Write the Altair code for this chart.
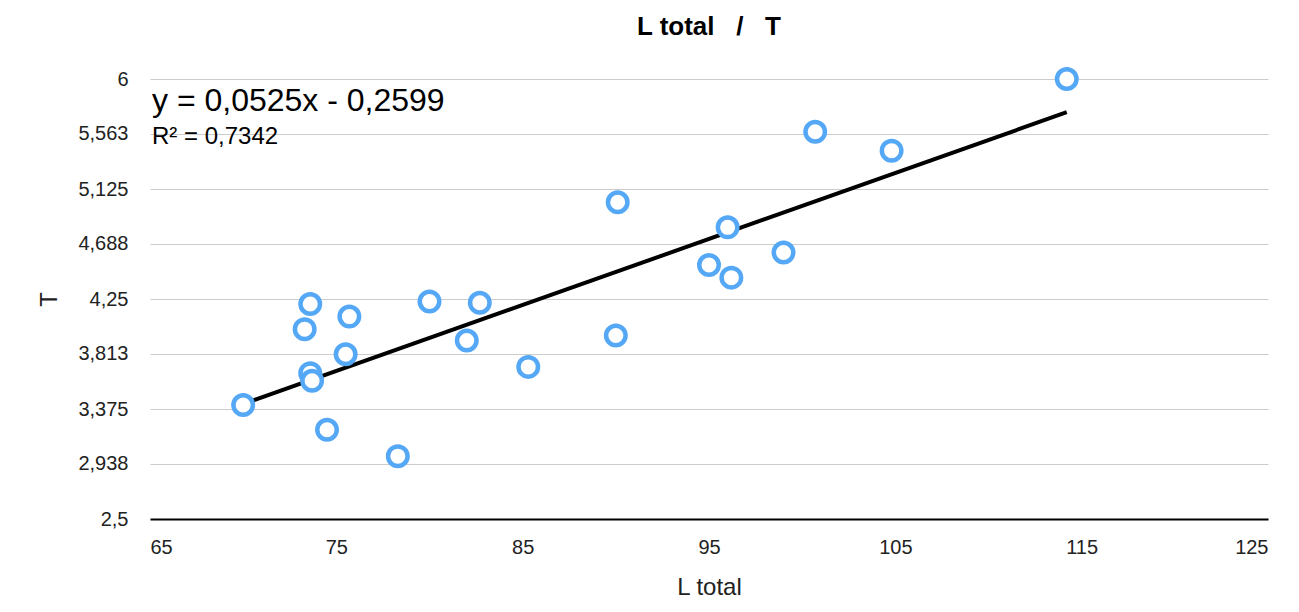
import altair as alt
import pandas as pd

lx = [70.0,73.6,73.3,75.7,73.6,73.7,75.5,74.5,78.3,80.0,82.7,82.0,85.3,90.1,90.0,95.0,96.0,96.2,99.0,100.7,104.8,114.2]
ty = [3.407,4.21,4.01,4.11,3.66,3.60,3.81,3.21,3.00,4.23,4.22,3.92,3.71,5.02,3.96,4.52,4.82,4.42,4.62,5.58,5.43,6.0]
yticks = [2.5,2.938,3.375,3.813,4.25,4.688,5.125,5.563,6]
xticks = [65,75,85,95,105,115,125]
slope, intercept = 0.0525, -0.2599

df = pd.DataFrame({"x": lx, "y": ty})
tx = [min(lx), max(lx)]
tdf = pd.DataFrame({"x": tx, "y": [slope*v+intercept for v in tx]})

xs = alt.Scale(domain=[65,125], nice=False, zero=False)
ys = alt.Scale(domain=[2.5,6], nice=False, zero=False)

base_x = alt.X("x:Q", scale=xs, title="L total",
               axis=alt.Axis(values=xticks, grid=False, ticks=False, domainColor="black", domainWidth=2,
                             labelFontSize=20, titleFontSize=24, titleFontWeight="normal", labelPadding=18, titlePadding=18,
                             labelColor="#222", titleColor="#222", labelFont="Liberation Sans", titleFont="Liberation Sans"))
base_y = alt.Y("y:Q", scale=ys, title="T",
               axis=alt.Axis(values=yticks, domain=False, ticks=False, gridColor="#cccccc",
                             labelExpr="replace(format(datum.value, ''), '.', ',')",
                             labelFontSize=20, titleFontSize=24, titleFontWeight="normal", labelPadding=22, titlePadding=16,
                             labelColor="#222", titleColor="#222", labelFont="Liberation Sans", titleFont="Liberation Sans"))

line = alt.Chart(tdf).mark_line(color="black", strokeWidth=4).encode(x=base_x, y=base_y)
pts = alt.Chart(df).mark_point(shape="circle", filled=False, fill="white", fillOpacity=1, color="#55a8f5",
                               strokeWidth=4.5, size=380, opacity=1).encode(x="x:Q", y="y:Q")
eq = alt.Chart(pd.DataFrame({"t": ["y = 0,0525x - 0,2599"]})).mark_text(
    align="left", baseline="middle", fontSize=32, font="Liberation Sans", color="black"
).encode(text="t:N", x=alt.value(2), y=alt.value(22))
r2 = alt.Chart(pd.DataFrame({"t": ["R² = 0,7342"]})).mark_text(
    align="left", baseline="middle", fontSize=24, font="Liberation Sans", color="black"
).encode(text="t:N", x=alt.value(2), y=alt.value(58))

chart = alt.layer(line, pts, eq, r2).properties(
    width=1118, height=440,
    title=alt.TitleParams("L total\u00a0\u00a0\u00a0/\u00a0\u00a0\u00a0T", fontSize=26, font="Liberation Sans", fontWeight="bold", offset=20, anchor="middle"),
    autosize=alt.AutoSizeParams(type="none"),
    padding={"left": 142, "top": 71, "right": 23, "bottom": 85},
).configure_view(stroke=None)

chart.save("out.html", embed_options={"renderer": "svg", "actions": False})
